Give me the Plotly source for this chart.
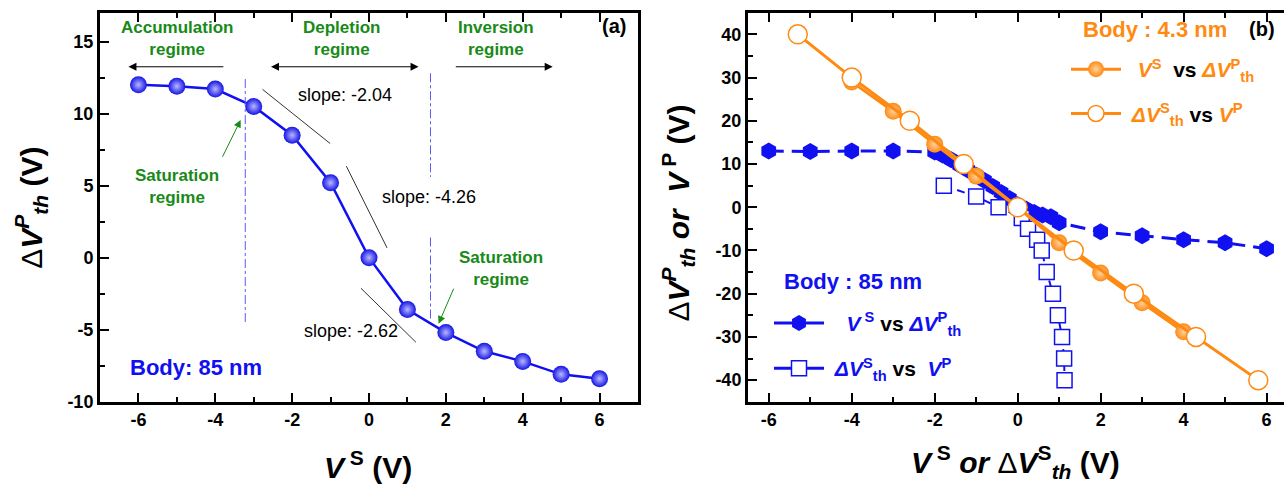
import plotly.graph_objects as go

# ---------------- data: panel (a) ----------------
vs_a = [-6, -5, -4, -3, -2, -1, 0, 1, 2, 3, 4, 5, 6]
dvthp_a = [12.0, 11.9, 11.7, 10.5, 8.5, 5.2, 0.0, -3.6, -5.2, -6.5, -7.2, -8.1, -8.4]

# ---------------- data: panel (b) ----------------
# Body 85 nm : V^S vs dVth^P
vs_85 = [-6, -5, -4, -3, -2.0, -1.8, -1.6, -1.4, -1.2, -1.0, -0.8, -0.6, -0.4, -0.2,
         0.0, 0.2, 0.4, 0.6, 0.8, 1.0, 2, 3, 4, 5, 6]
dvthp_85 = [13.0, 12.9, 13.0, 13.0, 12.8, 12.0, 11.0, 9.8, 8.6, 7.4, 6.2, 4.8, 3.4, 2.0,
            0.6, -0.4, -1.2, -1.8, -2.2, -3.6, -5.7, -6.6, -7.5, -8.2, -9.6]
# Body 85 nm : dVth^S vs V^P
dvths_85 = [-1.78, -1.0, -0.46, 0.1, 0.25, 0.47, 0.58, 0.7, 0.85, 0.97, 1.07, 1.12, 1.13]
vp_85 = [5, 2.5, 0, -2.5, -5, -7.5, -10, -15, -20, -25, -30, -35, -40]
# Body 4.3 nm : V^S vs dVth^P
vs_43 = [-4, -3, -2, -1, 0, 1, 2, 3, 4]
dvthp_43 = [29.0, 22.2, 14.6, 7.2, 0.0, -8.2, -15.2, -22.1, -28.8]
# Body 4.3 nm : dVth^S vs V^P
dvths_43 = [-5.3, -4.0, -2.6, -1.3, 0.0, 1.35, 2.8, 4.3, 5.8]
vp_43 = [40, 30, 20, 10, 0, -10, -20, -30, -40]

# ---------------- tick labels ----------------
x_ticks = [-6, -4, -2, 0, 2, 4, 6]
x_ticktext = ["-6", "-4", "-2", "0", "2", "4", "6"]
ya_ticks = [-10, -5, 0, 5, 10, 15]
ya_ticktext = ["-10", "-5", "0", "5", "10", "15"]
yb_ticks = [-40, -30, -20, -10, 0, 10, 20, 30, 40]
yb_ticktext = ["-40", "-30", "-20", "-10", "0", "10", "20", "30", "40"]

# ---------------- annotation data for panel (a) ----------------
regime_labels = ["Accumulation<br>regime", "Depletion<br>regime", "Inversion<br>regime"]
regime_label_x = [-4.99, -0.72, 3.31]
regime_label_y = 15.2
arrow_y = 13.25
arrow_tail_x = [-3.75, -2.59, 2.22]
arrow_head_x = [-6.26, 1.29, 4.78]
boundary_x = [-3.22, 1.6, 1.6]
boundary_y = [[12.4, -4.6], [12.8, 5.6], [1.4, -4.4]]
slope_labels = ["slope: -2.04", "slope: -4.26", "slope: -2.62"]
slope_label_x = [-0.62, 1.55, -0.47]
slope_label_y = [11.27, 4.23, -5.12]
slope_seg_x = [[-2.77, -1.01], [-0.59, 0.47], [-0.21, 1.22]]
slope_seg_y = [[11.68, 7.92], [6.35, 0.68], [-2.12, -5.87]]
sat_label_x = [-4.99, 3.44]
sat_label_y = [4.92, -0.75]
sat_arrow_tail = [(-3.83, 6.9), (2.22, -2.05)]
sat_arrow_head = [(-3.34, 9.56), (1.81, -4.58)]

FONT = "Liberation Sans, Arial, sans-serif"
BLUE = "#1010f0"
ORANGE = "#ff8a12"
GREEN = "#188a18"
NB = "\u00a0"

W, H = 1284, 496
ytop, ybot = 13, 410
yd = [(H - ybot) / H, (H - ytop) / H]


def px(x):
    return x / W


def py(y):
    return 1 - y / H


fig = go.Figure()

# panel (a)
fig.add_trace(go.Scatter(
    x=vs_a, y=dvthp_a, mode="lines+markers", xaxis="x", yaxis="y", showlegend=False,
    line=dict(color=BLUE, width=2.5),
    marker=dict(size=17, color="#1414e6", gradient=dict(type="radial", color="#b8b8ff"),
                line=dict(width=0))))

# panel (b) data traces
fig.add_trace(go.Scatter(
    x=vs_85, y=dvthp_85, mode="lines+markers", xaxis="x2", yaxis="y2", showlegend=False,
    line=dict(color=BLUE, width=3, dash="15px,8px"),
    marker=dict(symbol="hexagon", size=17, color=BLUE, line=dict(width=0))))
fig.add_trace(go.Scatter(
    x=dvths_85, y=vp_85, mode="lines+markers", xaxis="x2", yaxis="y2", showlegend=False,
    line=dict(color=BLUE, width=2, dash="8px,6px"),
    marker=dict(symbol="square", size=15, color="white", line=dict(color=BLUE, width=1.5))))
fig.add_trace(go.Scatter(
    x=vs_43, y=dvthp_43, mode="lines+markers", xaxis="x2", yaxis="y2", showlegend=False,
    line=dict(color=ORANGE, width=3),
    marker=dict(size=17, color=ORANGE, gradient=dict(type="radial", color="#ffd2a0"),
                line=dict(width=0))))
fig.add_trace(go.Scatter(
    x=dvths_43, y=vp_43, mode="lines+markers", xaxis="x2", yaxis="y2", showlegend=False,
    line=dict(color=ORANGE, width=3),
    marker=dict(size=19, color="white", line=dict(color=ORANGE, width=1.5))))

# legend entries (solid sample lines as in the original key)
legend_items = [
    ("legend", "o1", NB * 2 + "<i>V</i><sup>S</sup>  <span style='color:black'>vs</span> <i>ΔV</i><sup>P</sup><sub>th</sub>",
     ORANGE, dict(size=17, color=ORANGE, gradient=dict(type="radial", color="#ffd2a0"), line=dict(width=0))),
    ("legend", "o2", NB + "<i>ΔV</i><sup>S</sup><sub>th</sub> <span style='color:black'>vs</span> <i>V</i><sup>P</sup>",
     ORANGE, dict(size=17, color="white", line=dict(color=ORANGE, width=1.5))),
    ("legend2", "b1", NB * 3 + "<i>V</i><sup> S</sup> <span style='color:black'>vs</span> <i>ΔV</i><sup>P</sup><sub>th</sub>",
     BLUE, dict(symbol="hexagon", size=17, color=BLUE, line=dict(width=0))),
    ("legend2", "b2", NB + "<i>ΔV</i><sup>S</sup><sub>th</sub> <span style='color:black'>vs</span>  <i>V</i><sup>P</sup>",
     BLUE, dict(symbol="square", size=15, color="white", line=dict(color=BLUE, width=1.5))),
]
for lg, grp, name, col, mk in legend_items:
    fig.add_trace(go.Scatter(x=[None], y=[None], mode="lines+markers", xaxis="x2", yaxis="y2",
                             legend=lg, legendgroup=grp, name=name,
                             line=dict(color=col, width=3), marker=mk))

axis_common = dict(showgrid=False, zeroline=False, showline=True, linewidth=3, linecolor="black",
                   ticks="inside", ticklen=9, tickwidth=2, tickcolor="black",
                   tickfont=dict(family=FONT, size=18, color="black", weight="bold"))

legend_font = dict(family=FONT, size=21, weight="bold")
fig.update_layout(
    width=W, height=H, margin=dict(l=0, r=0, t=0, b=0),
    paper_bgcolor="white", plot_bgcolor="white",
    xaxis=dict(domain=[px(100), px(638)], range=[-7, 7], tickvals=x_ticks, ticktext=x_ticktext,
               minor=dict(ticks="inside", ticklen=5, tickwidth=2, dtick=1, tick0=-7),
               mirror="ticks", anchor="y", **axis_common),
    yaxis=dict(domain=yd, range=[-10, 17], tickvals=ya_ticks, ticktext=ya_ticktext,
               minor=dict(ticks="inside", ticklen=5, tickwidth=2, dtick=2.5, tick0=-10),
               mirror=True, anchor="x", **axis_common),
    xaxis2=dict(domain=[px(748), 1.0], range=[-6.5, 6.42], tickvals=x_ticks, ticktext=x_ticktext,
                minor=dict(ticks="inside", ticklen=5, tickwidth=2, dtick=1, tick0=-7),
                mirror="ticks", anchor="y2", **axis_common),
    yaxis2=dict(domain=yd, range=[-45, 45], tickvals=yb_ticks, ticktext=yb_ticktext,
                minor=dict(ticks="inside", ticklen=5, tickwidth=2, dtick=5, tick0=-45),
                mirror=False, anchor="x2", **axis_common),
    legend=dict(x=px(1066), y=py(50), xanchor="left", yanchor="top",
                bgcolor="rgba(0,0,0,0)", itemsizing="trace", itemwidth=50, tracegroupgap=14,
                font=dict(color=ORANGE, **legend_font)),
    legend2=dict(x=px(769), y=py(309), xanchor="left", yanchor="top",
                 bgcolor="rgba(0,0,0,0)", itemsizing="trace", itemwidth=50, tracegroupgap=15,
                 font=dict(color=BLUE, **legend_font)),
)

ann = []
shapes = []
# regime labels and arrows
for t, x in zip(regime_labels, regime_label_x):
    ann.append(dict(x=x, y=regime_label_y, xref="x", yref="y", text=t, showarrow=False,
                    xanchor="center", yanchor="middle",
                    font=dict(family=FONT, size=17, color=GREEN, weight="bold")))
for i, (xt, xh) in enumerate(zip(arrow_tail_x, arrow_head_x)):
    ann.append(dict(x=xh, y=arrow_y, ax=xt, ay=arrow_y, xref="x", yref="y", axref="x", ayref="y",
                    text="", showarrow=True, arrowhead=2, arrowsize=1.6, arrowwidth=1,
                    arrowcolor="black", arrowside="end+start" if i == 1 else "end"))
# boundaries
for bx, (y0, y1) in zip(boundary_x, boundary_y):
    shapes.append(dict(type="line", xref="x", yref="y", x0=bx, x1=bx, y0=y0, y1=y1,
                       line=dict(color="#5a5aff", width=1, dash="dashdot")))
# slopes
for t, x, y in zip(slope_labels, slope_label_x, slope_label_y):
    ann.append(dict(x=x, y=y, xref="x", yref="y", text=t, showarrow=False,
                    xanchor="center", yanchor="middle",
                    font=dict(family=FONT, size=18, color="black")))
for sx, sy in zip(slope_seg_x, slope_seg_y):
    shapes.append(dict(type="line", xref="x", yref="y", x0=sx[0], x1=sx[1], y0=sy[0], y1=sy[1],
                       line=dict(color="#333333", width=1)))
# saturation
for x, y in zip(sat_label_x, sat_label_y):
    ann.append(dict(x=x, y=y, xref="x", yref="y", text="Saturation<br>regime", showarrow=False,
                    xanchor="center", yanchor="middle",
                    font=dict(family=FONT, size=17, color=GREEN, weight="bold")))
for (tx, ty), (hx, hy) in zip(sat_arrow_tail, sat_arrow_head):
    ann.append(dict(x=hx, y=hy, ax=tx, ay=ty, xref="x", yref="y", axref="x", ayref="y",
                    text="", showarrow=True, arrowhead=2, arrowsize=1.5, arrowwidth=1,
                    arrowcolor=GREEN))


def paper_text(x, y, text, font, angle=0):
    ann.append(dict(x=px(x), y=py(y), xref="paper", yref="paper", text=text, showarrow=False,
                    xanchor="center", yanchor="middle", textangle=angle, font=font))


ann.append(dict(x=-4.5, y=-7.6, xref="x", yref="y", text="Body: 85 nm", showarrow=False,
                xanchor="center", yanchor="middle",
                font=dict(family=FONT, size=22, color=BLUE, weight="bold")))
paper_text(614, 27, "(a)", dict(family=FONT, size=20, color="black", weight="bold"))
paper_text(1262, 30, "(b)", dict(family=FONT, size=20, color="black", weight="bold"))
paper_text(1155, 30, "Body : 4.3 nm", dict(family=FONT, size=22, color=ORANGE, weight="bold"))
paper_text(853, 287, "Body : 85 nm", dict(family=FONT, size=22, color=BLUE, weight="bold"))

# axis titles
tfont = dict(family=FONT, size=30, color="black", weight="bold")
D = "<span style='font-weight:normal'>Δ</span>"
paper_text(31, 212, D + "<i>V</i><sup><i>P</i></sup><sub><i>th</i></sub> (V)", tfont, -90)
paper_text(368, 475, "<i>V</i><sup> S</sup> (V)", tfont)
paper_text(678, 218, D + "<i>V</i><sup><i>P</i></sup><sub><i>th</i></sub> <i>or</i>  <i>V</i><sup> P</sup> (V)",
           tfont, -90)
paper_text(1015, 471, "<i>V</i><sup> S</sup> <i>or</i> " + D + "<i>V</i><sup>S</sup><sub><i>th</i></sub> (V)",
           tfont)

fig.update_layout(annotations=ann, shapes=shapes)
fig.write_html("out.html", config={"displayModeBar": False},
               post_script="document.body.style.margin='0px';document.body.style.overflow='hidden';")
